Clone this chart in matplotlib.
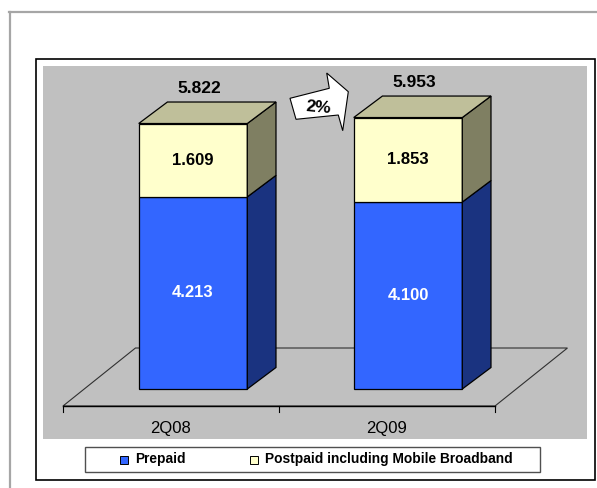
import numpy as np
import matplotlib.pyplot as plt
from matplotlib.patches import Polygon, Rectangle
from matplotlib.transforms import IdentityTransform

# data
categories = ['2Q08', '2Q09']
prepaid = [4.213, 4.100]
postpaid = [1.609, 1.853]
totals = [5.822, 5.953]
growth_label = '2%'
legend_labels = ['Prepaid', 'Postpaid including Mobile Broadband']

plt.rcParams['font.family'] = ['Liberation Sans', 'DejaVu Sans']

W, H = 597, 488
fig = plt.figure(figsize=(W / 100, H / 100), dpi=100)
idt = IdentityTransform()

def pix(x, y):
    # image pixel (top-left origin) -> display coords
    return (x, H - y)

# colours
blue_front, blue_side = '#3366FF', '#1A3380'
yel_front, yel_side, yel_top = '#FFFFCC', '#7F7F62', '#BFBF9A'
bg = '#C0C0C0'

# outer page border + chart frame (decoration)
fig.add_artist(plt.Line2D([9, W], [H - 12, H - 12], transform=idt, color='#A6A6A6', lw=1.6))
fig.add_artist(plt.Line2D([10, 10], [H - 12, 0], transform=idt, color='#A6A6A6', lw=1.6))
fig.add_artist(Polygon([pix(36, 59), pix(595, 59), pix(595, 480), pix(36, 480)], closed=True,
                       transform=idt, fc='none', ec='black', lw=1.2))

# plot area
ax = fig.add_axes([43 / W, 1 - 439 / H, 544 / W, 373 / H])
ax.set_facecolor(bg)
for s in ax.spines.values():
    s.set_visible(False)
ax.set_xticks([])
ax.set_yticks([])
ax.set_xlim(-0.6977, 1.8326)
ax.set_ylim(-1.0965, 7.0833)

# floor
fx0, fx1, fdx = -0.6047, 1.4047, 0.337
fy0, fy1 = -0.3728, 0.899
ax.add_patch(Polygon([(fx0, fy0), (fx1, fy0), (fx1 + fdx, fy1), (fx0 + fdx, fy1)],
                     closed=True, fc=bg, ec='#303030', lw=0.8, zorder=1))
ax.plot([fx0, fx1], [fy0, fy0], color='black', lw=1.0, zorder=2)
for tx in [fx0, (fx0 + fx1) / 2, fx1]:
    ax.plot([tx, tx], [fy0, fy0 - 0.13], color='black', lw=0.8, zorder=2)
for i, cat in enumerate(categories):
    cx = fx0 + (i + 0.5) * (fx1 - fx0) / 2
    ax.text(cx, -0.877, cat, ha='center', va='center', fontsize=12)

# 3d stacked bars
w, ddx, ddy = 0.505, 0.1335, 0.4715
for i in range(len(categories)):
    x0, x1 = i - w / 2, i + w / 2
    a, b = prepaid[i], postpaid[i]
    segs = [(0, a, blue_front, blue_side), (a, a + b, yel_front, yel_side)]
    for lo, hi, fc, sc in segs:
        ax.add_patch(Rectangle((x0, lo), w, hi - lo, fc=fc, ec='black', lw=0.9, zorder=3))
        ax.add_patch(Polygon([(x1, lo), (x1 + ddx, lo + ddy), (x1 + ddx, hi + ddy), (x1, hi)],
                             closed=True, fc=sc, ec='black', lw=0.9, zorder=3))
    top = a + b
    ax.add_patch(Polygon([(x0, top), (x1, top), (x1 + ddx, top + ddy), (x0 + ddx, top + ddy)],
                         closed=True, fc=yel_top, ec='black', lw=0.9, zorder=3))
    ax.text(i, a / 2, f'{a:.3f}', ha='center', va='center', color='white',
            fontsize=12, fontweight='bold', zorder=4)
    ax.text(i, a + b / 2, f'{b:.3f}', ha='center', va='center', color='black',
            fontsize=12, fontweight='bold', zorder=4)
    ax.text(i + 0.03, top + ddy + 0.3, f'{totals[i]:.3f}', ha='center', va='center',
            fontsize=12.5, fontweight='bold', zorder=4)

# growth arrow
arrow = [(290, 98.3), (296, 119.3), (338.3, 115), (342.7, 130.7),
         (348.3, 91.7), (326.7, 73), (329.3, 88.3)]
fig.add_artist(Polygon([pix(x, y) for x, y in arrow], closed=True, transform=idt,
                       fc='white', ec='black', lw=0.8))
fig.text(318 / W, 1 - 108 / H, growth_label, ha='center', va='center',
         fontsize=12.5, fontweight='bold', rotation=-5)

# legend
fig.add_artist(Polygon([pix(85, 447), pix(540, 447), pix(540, 472), pix(85, 472)], closed=True,
                       transform=idt, fc='white', ec='#505050', lw=1.0))
for (mx, tx), lab, col in zip([(120, 135), (250, 265)], legend_labels, [blue_front, yel_front]):
    fig.add_artist(Polygon([pix(mx, 455.5), pix(mx + 8, 455.5), pix(mx + 8, 463.5), pix(mx, 463.5)],
                           closed=True, transform=idt, fc=col, ec='black', lw=0.7))
    fig.text(tx / W, 1 - 459.5 / H, lab, ha='left', va='center', fontsize=9.9, fontweight='bold')

fig.savefig('out.png', dpi=100)
